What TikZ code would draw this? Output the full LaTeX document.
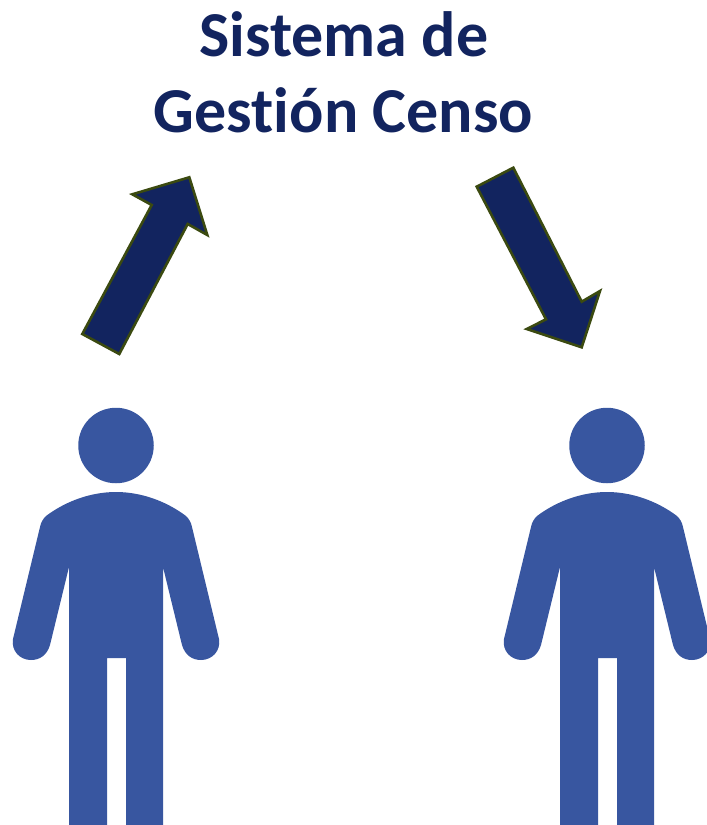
\documentclass[tikz,border=0pt]{standalone}
\usepackage{fontspec}
\usepackage{xcolor}
\setmainfont[RawFeature={-liga}]{Carlito}
\definecolor{navyfill}{HTML}{12245F}
\definecolor{oliveline}{HTML}{3B4A10}
\definecolor{personblue}{HTML}{3856A0}

\begin{document}
\begin{tikzpicture}[
    x = 1pt,
    y = -1pt,
    titletext/.style = {text = navyfill, font = \fontsize{64}{70}\selectfont\bfseries, inner sep = 0pt, anchor = base}, % heading lines
    bigarrow/.style = {draw = oliveline, fill = navyfill, line width = 2.6pt, line join = miter},
    personshape/.style = {fill = personblue, draw = none},
    personhead/.style = {circle, fill = personblue, minimum size = 75.5pt, inner sep = 0pt}
]
\useasboundingbox (0,0) rectangle (707,825);
\clip (0,0) rectangle (707,825);

\node[titletext] (title1) at (344,56) {Sistema de};
\node[titletext] (title2) at (343.5,132) {Gestión Censo};

% arrows
\draw[bigarrow] (82.3,334) -- (151.7,205) -- (132.3,194.3) -- (189.3,177.3)
    -- (207.3,235) -- (187.7,224) -- (119.3,354) -- cycle;
\draw[bigarrow] (476.7,186.7) -- (513.3,167.7) -- (581.7,301.7) -- (600,291)
    -- (581.7,347.3) -- (526.7,329) -- (546,319.3) -- cycle;

% people
\foreach \px/\pname in {116/left,607/right} {
    \begin{scope}[xshift=\px pt]
    \node[personhead] (head\pname) at (0,445.5) {};
    \fill[personshape] (-47,825) -- (-47,567) -- (-66,645)
        .. controls (-69,655) and (-76,660) .. (-85,660)
        .. controls (-96,660) and (-105,651) .. (-103,639)
        -- (-76,527) .. controls (-75,522) and (-73,519) .. (-70,516)
        .. controls (-50,501) and (-25,492) .. (0,492)
        .. controls (25,492) and (50,501) .. (70,516)
        .. controls (73,519) and (75,522) .. (76,527)
        -- (103,639) .. controls (105,651) and (96,660) .. (85,660)
        .. controls (76,660) and (69,655) .. (66,645)
        -- (47,567) -- (47,825) -- (10,825) -- (10,658) -- (-9,658) -- (-9,825) -- cycle;
    \end{scope}
}

\end{tikzpicture}
\end{document}
